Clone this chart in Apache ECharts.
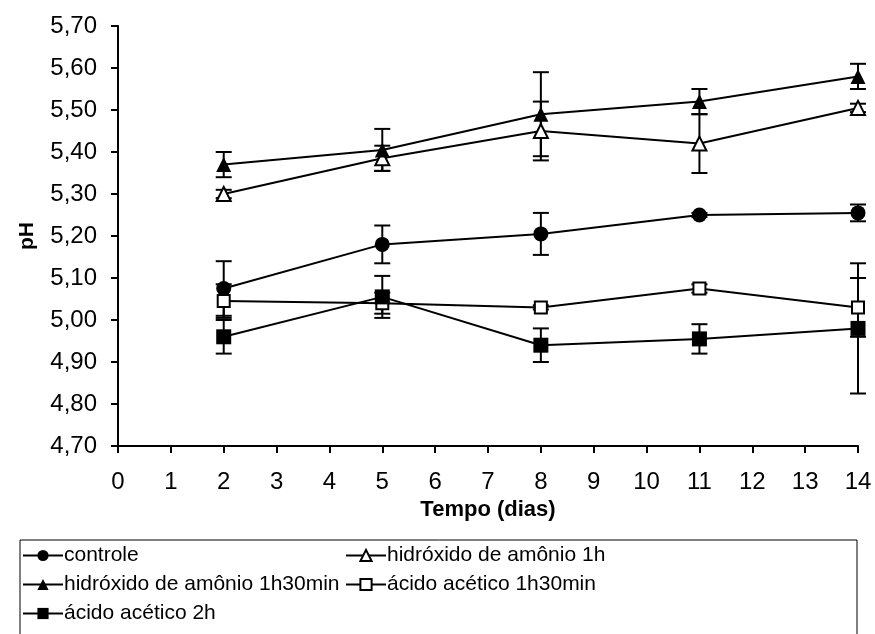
<!DOCTYPE html>
<html><head><meta charset="utf-8">
<script src="https://cdn.jsdelivr.net/npm/echarts@6/dist/echarts.min.js"></script>
<style>html,body{margin:0;padding:0;background:#fff}#c{width:875px;height:634px}</style>
</head><body><div id="c"></div>
<script>
var days = [2, 5, 8, 11, 14];
var seriesNames = ['controle', 'hidróxido de amônio 1h', 'hidróxido de amônio 1h30min', 'ácido acético 1h30min', 'ácido acético 2h'];
var controle = [5.075, 5.18, 5.205, 5.25, 5.255];
var controleErr = [0.065, 0.045, 0.05, 0.005, 0.02];
var hidroxido1h = [5.30, 5.385, 5.45, 5.42, 5.505];
var hidroxido1hErr = [0.01, 0.03, 0.07, 0.07, 0.01];
var hidroxido1h30 = [5.37, 5.405, 5.49, 5.52, 5.58];
var hidroxido1h30Err = [0.03, 0.05, 0.10, 0.03, 0.03];
var acetico1h30 = [5.045, 5.04, 5.03, 5.075, 5.03];
var acetico1h30Err = [0.04, 0.025, 0.005, 0.01, 0.07];
var acetico2h = [4.96, 5.055, 4.94, 4.955, 4.98];
var acetico2hErr = [0.04, 0.05, 0.04, 0.035, 0.155];
var yTicks = [4.70, 4.80, 4.90, 5.00, 5.10, 5.20, 5.30, 5.40, 5.50, 5.60, 5.70];

var FONT = 'Liberation Sans, Arial, sans-serif';
var values = [controle, hidroxido1h, hidroxido1h30, acetico1h30, acetico2h];
var errs = [controleErr, hidroxido1hErr, hidroxido1h30Err, acetico1h30Err, acetico2hErr];
var symbols = ['circle', 'triangle', 'triangle', 'rect', 'rect'];
var filled = [true, false, true, false, true];
var sizes = [15, 14, 15, 12, 15];

function errRender(params, api) {
  var x = api.value(0), lo = api.value(1), hi = api.value(2);
  var pLo = api.coord([x, lo]), pHi = api.coord([x, hi]);
  var w = 8;
  var st = {stroke: '#000', lineWidth: 2};
  return {type: 'group', children: [
    {type: 'line', shape: {x1: pLo[0], y1: pLo[1], x2: pHi[0], y2: pHi[1]}, style: st},
    {type: 'line', shape: {x1: pLo[0]-w, y1: pLo[1], x2: pLo[0]+w, y2: pLo[1]}, style: st},
    {type: 'line', shape: {x1: pHi[0]-w, y1: pHi[1], x2: pHi[0]+w, y2: pHi[1]}, style: st}
  ]};
}

var series = [];
values.forEach(function (v, i) {
  series.push({
    name: 'err' + i, type: 'custom', renderItem: errRender, z: 1,
    data: days.map(function (d, k) { return [d, v[k] - errs[i][k], v[k] + errs[i][k]]; }),
    silent: true
  });
});
values.forEach(function (v, i) {
  series.push({
    name: seriesNames[i], type: 'line', z: 3,
    data: days.map(function (d, k) { return [d, v[k]]; }),
    symbol: symbols[i], symbolSize: sizes[i], showSymbol: true,
    lineStyle: {color: '#000', width: 2},
    itemStyle: {color: filled[i] ? '#000' : '#fff', borderColor: '#000', borderWidth: filled[i] ? 0 : 2},
    emphasis: {disabled: true}
  });
});

var chart = echarts.init(document.getElementById('c'));
chart.setOption({
  animation: false,
  backgroundColor: '#fff',
  grid: {left: 118, right: 17, top: 26, bottom: 188},
  xAxis: {
    type: 'value', min: 0, max: 14, interval: 1,
    name: 'Tempo (dias)', nameLocation: 'middle', nameGap: 52,
    nameTextStyle: {fontFamily: FONT, fontSize: 22, fontWeight: 'bold', color: '#000'},
    axisLine: {lineStyle: {color: '#000', width: 2}},
    axisTick: {show: true, length: 7, lineStyle: {color: '#000', width: 2}},
    axisLabel: {fontFamily: FONT, fontSize: 24, color: '#000', margin: 24},
    splitLine: {show: false}
  },
  yAxis: {
    type: 'value', min: yTicks[0], max: yTicks[yTicks.length - 1], interval: 0.1,
    name: 'pH', nameLocation: 'middle', nameGap: 80,
    nameTextStyle: {fontFamily: FONT, fontSize: 21, fontWeight: 'bold', color: '#000'},
    axisLine: {show: true, lineStyle: {color: '#000', width: 2}},
    axisTick: {show: true, length: 7, lineStyle: {color: '#000', width: 2}},
    axisLabel: {fontFamily: FONT, fontSize: 24, color: '#000', margin: 21,
      formatter: function (v) { return v.toFixed(2).replace('.', ','); }},
    splitLine: {show: false}
  },
  legend: [
    {data: [seriesNames[0], seriesNames[2], seriesNames[4]], orient: 'vertical', left: 22, top: 545, padding: 0,
     itemWidth: 40, itemHeight: 14, itemGap: 8,
     textStyle: {fontFamily: FONT, fontSize: 21, color: '#000', padding: [0, 0, 0, -4]}},
    {data: [seriesNames[1], seriesNames[3]], orient: 'vertical', left: 345, top: 545, padding: 0,
     itemWidth: 40, itemHeight: 14, itemGap: 8,
     textStyle: {fontFamily: FONT, fontSize: 21, color: '#000', padding: [0, 0, 0, -4]}}
  ],
  graphic: [{type: 'rect', shape: {x: 20, y: 540, width: 837, height: 110},
    style: {fill: 'none', stroke: '#000', lineWidth: 1}, silent: true}],
  series: series
});
</script></body></html>
